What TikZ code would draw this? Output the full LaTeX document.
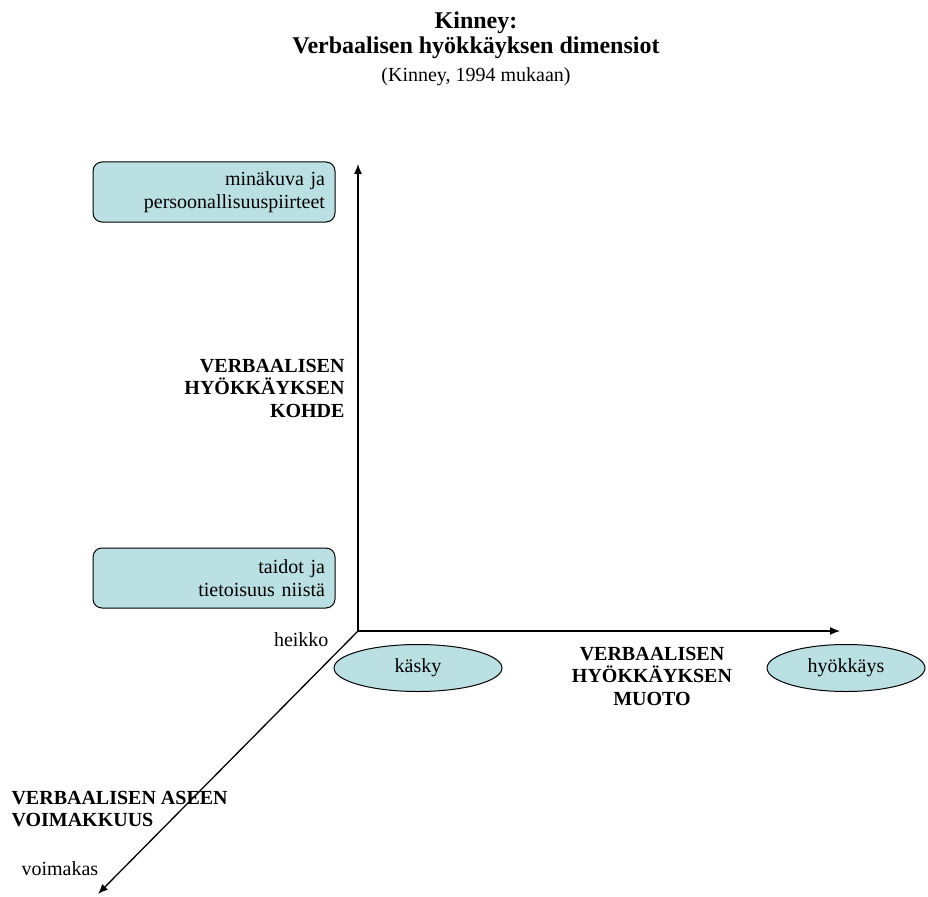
\documentclass[tikz,border=0pt]{standalone}
\usepackage{fontspec}
\setmainfont{Liberation Serif}
\usepackage{xcolor}
\usepackage{tikz}
\usetikzlibrary{arrows.meta,shapes.geometric}
\definecolor{boxfill}{RGB}{186,224,227}
\tikzset{
  axis/.style={line width=1.3pt,-{Latex[length=10pt,width=8pt]}},
  tbox/.style={draw,line width=1pt,fill=boxfill,rounded corners=9pt,minimum width=242pt,minimum height=60pt,
    text width=222pt,align=right,font=\fontsize{20}{23}\selectfont},
  oval/.style={ellipse,draw,line width=1pt,fill=boxfill,minimum height=47pt,inner sep=0pt,font=\fontsize{20}{23}\selectfont},
  caps/.style={font=\bfseries\fontsize{20}{22.5}\selectfont},
  lbl/.style={font=\fontsize{20}{23}\selectfont}
}
\begin{document}
\begin{tikzpicture}[x=1pt,y=-1pt]
\useasboundingbox (0,0) rectangle (928,896);
% title
\node[font=\bfseries\fontsize{24}{25}\selectfont,align=center](title) at (476,35){Kinney:\\Verbaalisen hyökkäyksen dimensiot};
\node[lbl](src) at (476,77){(Kinney, 1994 mukaan)};
% axes
\coordinate (O) at (358,631);
\coordinate (ytip) at (358,164);
\coordinate (xtip) at (840,631);
\coordinate (ztip) at (98,894);
\draw[axis](O)--(ytip);
\draw[axis](O)--(xtip);
\draw[axis](O)--(ztip);
% boxes
\node[tbox](self) at (214,192){minäkuva ja\\persoonallisuuspiirteet};
\node[tbox](skill) at (214,578){taidot ja\\tietoisuus niistä};
\node[oval,minimum width=168pt](order) at (418,668){käsky};
\node[oval,minimum width=158pt](attack) at (846,668){hyökkäys};
% axis titles
\node[caps,align=right,anchor=east](target) at (348,388){VERBAALISEN\\HYÖKKÄYKSEN\\KOHDE};
\node[caps,align=center](form) at (652,676){VERBAALISEN\\HYÖKKÄYKSEN\\MUOTO};
\node[caps,align=left,anchor=west](force) at (8,809){VERBAALISEN ASEEN\\VOIMAKKUUS};
\node[lbl,anchor=east](weak) at (332,640){heikko};
\node[lbl,anchor=west](strong) at (18,869){voimakas};
\end{tikzpicture}
\end{document}
